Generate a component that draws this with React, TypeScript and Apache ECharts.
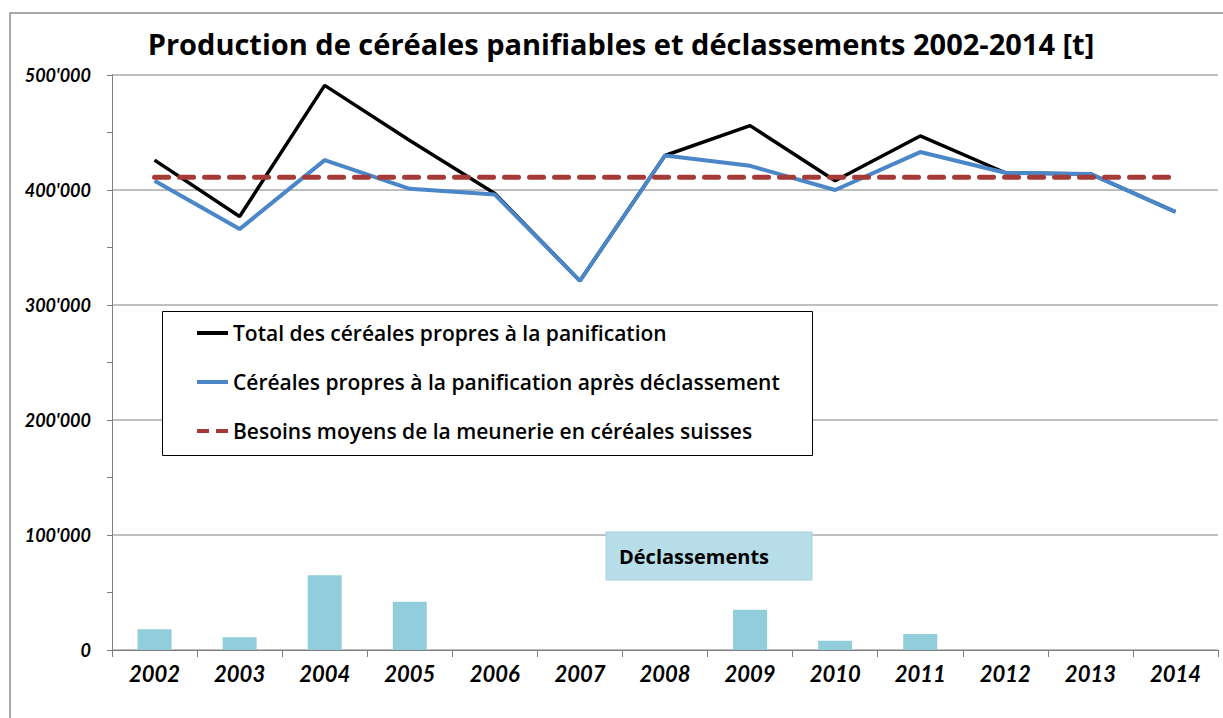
import React, { useEffect, useRef } from "react";
import * as echarts from "echarts";

const years = ["2002", "2003", "2004", "2005", "2006", "2007", "2008", "2009", "2010", "2011", "2012", "2013", "2014"];
const totalPanifiable = [426000, 377000, 491000, 443000, 397000, 321000, 430000, 456000, 408000, 447000, 415000, 414000, 381000];
const apresDeclassement = [408000, 366000, 426000, 401000, 396000, 321000, 430000, 421000, 400000, 433000, 415000, 414000, 381000];
const besoinsMoyens = [411000, 411000, 411000, 411000, 411000, 411000, 411000, 411000, 411000, 411000, 411000, 411000, 411000];
const declassements = [18000, 11000, 65000, 42000, 0, 0, 0, 35000, 8000, 14000, 0, 0, 0];
const yMin = 0;
const yMax = 500000;
const yInterval = 100000;

const titleText = "Production de céréales panifiables et déclassements 2002-2014 [t]";
const nameTotal = "Total des céréales propres à la panification";
const nameApres = "Céréales propres à la panification après déclassement";
const nameBesoins = "Besoins moyens de la meunerie en céréales suisses";
const nameDeclass = "Déclassements";

const FONT_TXT = "'Open Sans', Lato, sans-serif";
const FONT_NUM = "Lato, 'Open Sans', sans-serif";

function fmt(v: number): string {
  const s = String(Math.round(v));
  return s.replace(/\B(?=(\d{3})+(?!\d))/g, "'");
}

export default function App() {
  const ref = useRef<HTMLDivElement>(null);
  useEffect(() => {
    if (!ref.current) return;
    const chart = echarts.init(ref.current, undefined, { renderer: "svg" });
    chart.setOption({
      animation: false,
      backgroundColor: "#ffffff",
      title: {
        text: titleText,
        left: 621,
        textAlign: "center",
        top: 29,
        padding: 0,
        textStyle: { fontFamily: FONT_TXT, fontSize: 29, fontWeight: "bold", color: "#000" },
      },
      grid: { left: 112, right: 5, top: 75, bottom: 68, containLabel: false },
      legend: {
        orient: "vertical",
        left: 197,
        top: 320,
        padding: 0,
        itemWidth: 31,
        itemHeight: 4,
        itemGap: 23,
        z: 20,
        symbolKeepAspect: false,
        data: [
          { name: nameTotal, icon: "rect", itemStyle: { color: "#000000" } },
          { name: nameApres, icon: "rect", itemStyle: { color: "#4a86c8" } },
          {
            name: nameBesoins,
            icon: "path://M0,0H12V5H0Z M19,0H31V5H19Z",
            itemStyle: { color: "#a63a36" },
          },
        ],
        textStyle: { fontFamily: FONT_TXT, fontSize: 21, fontWeight: 600, color: "#000", lineHeight: 26 },
      },
      xAxis: {
        type: "category",
        data: years,
        boundaryGap: true,
        axisLine: { show: true, lineStyle: { color: "#7f7f7f", width: 1 } },
        axisTick: { show: true, length: 7, lineStyle: { color: "#7f7f7f" } },
        axisLabel: {
          margin: 12,
          fontFamily: FONT_NUM,
          fontSize: 22,
          fontWeight: "bold",
          fontStyle: "italic",
          color: "#000",
        },
      },
      yAxis: {
        type: "value",
        min: yMin,
        max: yMax,
        interval: yInterval,
        axisLine: { show: true, lineStyle: { color: "#7f7f7f", width: 1 } },
        axisTick: { show: true, length: 5, lineStyle: { color: "#7f7f7f" } },
        minorTick: { show: true, splitNumber: 2, length: 5, lineStyle: { color: "#7f7f7f" } },
        splitLine: { show: true, lineStyle: { color: "#aaaaaa", width: 1.5 } },
        axisLabel: {
          margin: 21,
          fontFamily: FONT_NUM,
          fontSize: 18,
          fontWeight: "bold",
          fontStyle: "italic",
          color: "#000",
          formatter: (v: number) => fmt(v),
        },
      },
      graphic: [
        {
          type: "rect",
          z: 0,
          silent: true,
          shape: { x: 10, y: 13, width: 1260, height: 760 },
          style: { fill: "none", stroke: "#8c8c8c", lineWidth: 1.5 },
        },
        {
          type: "rect",
          z: 10,
          silent: true,
          shape: { x: 162.5, y: 311.5, width: 650, height: 144 },
          style: { fill: "#ffffff", stroke: "#000000", lineWidth: 1 },
        },
        {
          type: "rect",
          z: 10,
          silent: true,
          shape: { x: 606, y: 532, width: 206, height: 48 },
          style: { fill: "#b7dde8", stroke: "#a7cfdc", lineWidth: 1 },
        },
        {
          type: "text",
          z: 11,
          silent: true,
          x: 619,
          y: 556,
          style: {
            text: nameDeclass,
            fontFamily: FONT_TXT,
            fontSize: 20,
            fontWeight: "bold",
            fill: "#000",
            verticalAlign: "middle",
          },
        },
      ],
      series: [
        {
          name: nameDeclass,
          type: "bar",
          data: declassements,
          barWidth: 34,
          itemStyle: { color: "#92cddc" },
          z: 1,
        },
        {
          name: nameTotal,
          type: "line",
          data: totalPanifiable,
          symbol: "none",
          lineStyle: { color: "#000000", width: 3.5 },
          itemStyle: { color: "#000000" },
          z: 3,
        },
        {
          name: nameApres,
          type: "line",
          data: apresDeclassement,
          symbol: "none",
          lineStyle: { color: "#4a86c8", width: 4 },
          itemStyle: { color: "#4a86c8" },
          z: 4,
        },
        {
          name: nameBesoins,
          type: "line",
          data: besoinsMoyens,
          symbol: "none",
          lineStyle: { color: "#a63a36", width: 5, type: [14, 11], cap: "round" },
          itemStyle: { color: "#a63a36" },
          z: 5,
        },
      ],
    });
    return () => chart.dispose();
  }, []);
  return (
    <div
      ref={ref}
      style={{ position: "absolute", left: 0, top: 0, width: 1223, height: 718 }}
    />
  );
}
